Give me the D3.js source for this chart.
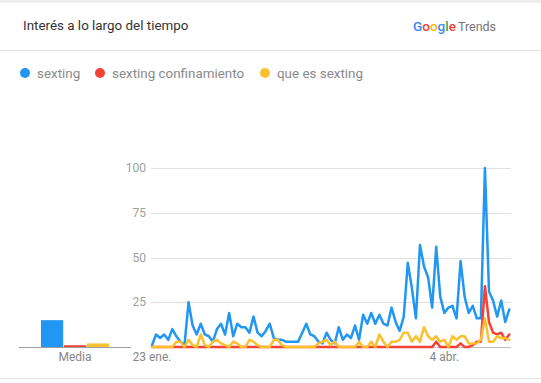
<!DOCTYPE html>
<html>
<head>
<meta charset="utf-8">
<script src="https://cdn.jsdelivr.net/npm/d3@7/dist/d3.min.js"></script>
<style>
  html, body { margin: 0; padding: 0; background: #fff; }
  svg { display: block; font-family: Roboto, "Noto Sans", sans-serif; }
</style>
</head>
<body>
<svg id="chart" width="541" height="383"></svg>
<script>
// ---- data ----
const seriesNames = ["sexting", "sexting confinamiento", "que es sexting"];
const seriesColors = ["#2196f3", "#f44336", "#fbc02d"];
const startDate = "2020-01-23";
const sexting = [1,7,5,7,4,10,6,3,1,25,12,7,13,7,6,3,10,13,7,19,6,13,11,11,8,17,8,6,9,13,
  5,4,4,3,3,3,3,8,13,7,6,3,2,8,4,2,11,4,7,5,12,4,18,13,19,13,18,13,12,22,
  14,9,17,47,33,16,57,45,39,22,56,28,19,22,23,16,48,28,19,23,16,16,100,31,26,17,26,14,21];
const sextingConfinamiento = [0,0,0,0,0,0,0,0,0,0,0,0,0,0,0,0,0,0,0,0,0,0,0,0,0,0,0,0,0,0,
  0,0,0,0,0,0,0,0,0,0,0,0,0,0,0,0,0,0,0,0,0,0,0,0,0,0,0,0,0,0,
  0,0,0,0,0,0,0,0,0,0,3,0,0,0,0,0,2,0,0,1,3,3,34,14,8,7,8,4,7];
const queEsSexting = [0,0,0,0,0,0,3,3,0,4,1,0,7,1,0,3,4,2,1,0,3,2,0,0,4,3,1,0,0,0,
  4,4,1,0,0,0,0,0,0,0,0,2,3,4,1,3,0,0,0,0,0,3,0,0,3,0,7,3,0,3,
  3,4,8,8,3,6,3,11,6,4,6,3,4,0,6,4,6,6,2,2,2,4,16,3,3,6,5,5,4];
const averages = [15, 1, 2];
const yTicks = [25, 50, 75, 100];
const xTickDates = ["2020-01-23", "2020-04-04"];
const xTickLabels = ["23 ene.", "4 abr."];
const avgLabel = "Media";
const title = "Interés a lo largo del tiempo";

// ---- drawing ----
const svg = d3.select("#chart");
const parse = d3.timeParse("%Y-%m-%d");
const t0 = parse(startDate);
const dates = sexting.map((_, i) => d3.timeDay.offset(t0, i));

// top strip, header
svg.append("rect").attr("x", 0).attr("y", 0).attr("width", 541).attr("height", 3).attr("fill", "#eeeeee");
svg.append("text").attr("x", 23).attr("y", 30).attr("font-size", 13.4).attr("fill", "#333333").text(title);

const logo = svg.append("text").attr("x", 413).attr("y", 31).attr("font-size", 13.5);
const gLetters = [["G", "#4285F4"], ["o", "#EA4335"], ["o", "#FBBC05"], ["g", "#4285F4"], ["l", "#34A853"], ["e", "#EA4335"]];
gLetters.forEach(([c, col]) => logo.append("tspan").attr("fill", col).attr("font-weight", 500).text(c));
logo.append("tspan").attr("fill", "#757575").attr("font-size", 12.5).attr("dx", 2).text("Trends");

svg.append("line").attr("x1", 0).attr("x2", 541).attr("y1", 50.5).attr("y2", 50.5).attr("stroke", "#e0e0e0");
svg.append("line").attr("x1", 0).attr("x2", 541).attr("y1", 378.5).attr("y2", 378.5).attr("stroke", "#e0e0e0");

// legend
const legendX = [25, 100, 265];
seriesNames.forEach((n, i) => {
  svg.append("circle").attr("cx", legendX[i]).attr("cy", 73).attr("r", 5).attr("fill", seriesColors[i]);
  svg.append("text").attr("x", legendX[i] + 12).attr("y", 78).attr("font-size", 13.4).attr("fill", "#8a8a8a").text(n);
});

// scales
const x = d3.scaleTime().domain([dates[0], dates[dates.length - 1]]).range([152, 509.3]);
const y = d3.scaleLinear().domain([0, 100]).range([347, 168]);

// gridlines + y labels
const grid = svg.append("g");
grid.selectAll("line").data(yTicks).join("line")
  .attr("x1", 151).attr("x2", 511)
  .attr("y1", d => Math.round(y(d)) + 0.5).attr("y2", d => Math.round(y(d)) + 0.5)
  .attr("stroke", "#e0e0e0");
grid.selectAll("text").data(yTicks).join("text")
  .attr("x", 146).attr("y", d => y(d) + 4).attr("text-anchor", "end")
  .attr("font-size", 12).attr("fill", "#9e9e9e").text(d => d);

// baselines
svg.append("line").attr("x1", 19).attr("x2", 131).attr("y1", y(0) + 0.5).attr("y2", y(0) + 0.5).attr("stroke", "#9e9e9e");
svg.append("line").attr("x1", 151).attr("x2", 511).attr("y1", y(0) + 0.5).attr("y2", y(0) + 0.5).attr("stroke", "#bdbdbd");

// average bars
const xb = d3.scaleBand().domain(seriesNames).range([41, 109]).paddingInner(0.03);
svg.append("g").selectAll("rect").data(averages).join("rect")
  .attr("x", (d, i) => xb(seriesNames[i]))
  .attr("width", xb.bandwidth())
  .attr("y", d => y(d))
  .attr("height", d => y(0) - y(d))
  .attr("fill", (d, i) => seriesColors[i]);
svg.append("text").attr("x", 75).attr("y", 361).attr("text-anchor", "middle")
  .attr("font-size", 12).attr("fill", "#888888").text(avgLabel);

// x labels
svg.append("g").selectAll("text").data(xTickDates).join("text")
  .attr("x", d => x(parse(d))).attr("y", 361).attr("text-anchor", "middle")
  .attr("font-size", 12).attr("fill", "#888888").text((d, i) => xTickLabels[i]);

// lines
const line = d3.line().x((d, i) => x(dates[i])).y(d => y(d));
[sexting, sextingConfinamiento, queEsSexting].forEach((s, i) => {
  svg.append("path").datum(s).attr("d", line).attr("fill", "none")
    .attr("stroke", seriesColors[i]).attr("stroke-width", 2.5)
    .attr("stroke-linejoin", "round").attr("stroke-linecap", "round");
});
</script>
</body>
</html>
